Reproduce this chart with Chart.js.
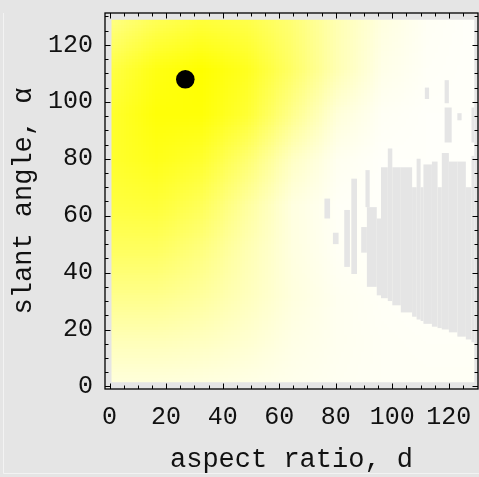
<!DOCTYPE html>
<html lang="en">
<head>
    <meta charset="UTF-8">
    <title>slant angle vs aspect ratio</title>
    <script src="https://cdn.jsdelivr.net/npm/chart.js"></script>
    <style>
        html, body { margin: 0; padding: 0; background-color: #e5e5e5; }
        canvas { display: block; }
    </style>
</head>
<body>

<canvas id="map" width="479" height="477"></canvas>

<script>
    // grid points of the yellow field (data units)
    const fieldX = [0, 16, 32, 48, 64, 80, 96, 112, 128];
    const fieldY = [128, 112, 96, 80, 64, 48, 32, 16, 0];
    // yellow strength at each grid point, rows from top (y=128) to bottom (y=0)
    const strength = [
        [0.50, 0.68, 0.78, 0.72, 0.55, 0.30, 0.12, 0.04, 0.02],
        [0.72, 0.92, 1.00, 0.88, 0.60, 0.30, 0.09, 0.03, 0.02],
        [0.82, 0.97, 0.97, 0.80, 0.45, 0.15, 0.04, 0.02, 0.02],
        [0.82, 0.90, 0.82, 0.56, 0.23, 0.06, 0.02, 0.02, 0.02],
        [0.75, 0.78, 0.65, 0.38, 0.12, 0.03, 0.02, 0.02, 0.02],
        [0.62, 0.62, 0.50, 0.30, 0.12, 0.04, 0.02, 0.02, 0.02],
        [0.45, 0.45, 0.38, 0.26, 0.13, 0.06, 0.03, 0.02, 0.02],
        [0.27, 0.27, 0.24, 0.18, 0.10, 0.06, 0.04, 0.03, 0.03],
        [0.12, 0.12, 0.11, 0.09, 0.07, 0.05, 0.04, 0.04, 0.04]
    ];
    // extent of the filled cells
    const fieldMin = [0.7, 1.5];
    const fieldMax = [129, 128.8];

    // cells with no value: [x0, x1, y0, y1]
    const gaps = [
        [76, 78, 59, 66], [79, 81, 50, 54], [83, 85, 42, 62], [85.5, 87.5, 39.5, 73],
        [89, 91, 47, 56], [90.5, 92, 63, 76], [91, 94.5, 35, 63], [94.5, 96, 32, 59],
        [96, 98.4, 31, 77], [98.4, 100, 30, 83.6], [100, 103, 28.5, 77], [103, 107, 26, 77],
        [107, 108.6, 24.5, 70], [108.6, 110, 23.5, 80], [110, 111, 23, 70], [111, 114, 22, 78],
        [114, 116, 21, 79], [116, 117.5, 20.5, 70], [117.5, 120, 20, 82], [120, 123, 19, 79],
        [123, 126, 17.5, 79], [126, 128, 16.5, 70], [128, 130, 15.5, 81],
        [111.5, 113, 101, 105], [118.5, 120, 99.5, 107.6], [118.5, 121, 85.7, 98],
        [123, 124.5, 93.5, 96], [128, 129.5, 85.7, 98]
    ];

    // optimum marker
    const dotX = [26.8];
    const dotY = [107.9];

    const xTicks = [0, 20, 40, 60, 80, 100, 120];
    const yTicks = [0, 20, 40, 60, 80, 100, 120];
    const minorStep = 5;

    const bgColor = '#e5e5e5';
    const tickFont = { family: 'Liberation Mono', size: 25 };
    const titleFont = { family: 'Liberation Mono', size: 27 };

    function noPadding(s) {
        s.paddingTop = 0;
        s.paddingBottom = 0;
        s.paddingLeft = 0;
        s.paddingRight = 0;
    }

    const fieldPlugin = {
        id: 'field',
        beforeDatasetsDraw(chart) {
            const { ctx, scales: { x, y } } = chart;

            // small image, one pixel per grid point, stretched by the canvas
            const img = document.createElement('canvas');
            img.width = fieldX.length;
            img.height = fieldY.length;
            const ictx = img.getContext('2d');
            const data = ictx.createImageData(img.width, img.height);
            strength.forEach((row, j) => {
                row.forEach((t, i) => {
                    const k = (j * img.width + i) * 4;
                    data.data[k] = 255;
                    data.data[k + 1] = 255;
                    data.data[k + 2] = Math.round(255 * (1 - t));
                    data.data[k + 3] = 255;
                });
            });
            ictx.putImageData(data, 0, 0);

            const half = (fieldX[1] - fieldX[0]) / 2;
            const left = x.getPixelForValue(fieldX[0] - half);
            const right = x.getPixelForValue(fieldX[fieldX.length - 1] + half);
            const top = y.getPixelForValue(fieldY[0] + half);
            const bottom = y.getPixelForValue(fieldY[fieldY.length - 1] - half);

            const cx0 = x.getPixelForValue(fieldMin[0]);
            const cx1 = x.getPixelForValue(fieldMax[0]);
            const cy0 = y.getPixelForValue(fieldMax[1]);
            const cy1 = y.getPixelForValue(fieldMin[1]);

            ctx.save();
            ctx.beginPath();
            ctx.rect(cx0, cy0, cx1 - cx0, cy1 - cy0);
            ctx.clip();
            ctx.imageSmoothingEnabled = true;
            ctx.drawImage(img, left, top, right - left, bottom - top);

            ctx.fillStyle = bgColor;
            gaps.forEach(g => {
                const gx0 = x.getPixelForValue(g[0]);
                const gx1 = x.getPixelForValue(g[1]);
                const gy0 = y.getPixelForValue(g[3]);
                const gy1 = y.getPixelForValue(g[2]);
                ctx.fillRect(gx0, gy0, gx1 - gx0, gy1 - gy0);
            });
            ctx.restore();
        }
    };

    const framePlugin = {
        id: 'frame',
        beforeDraw(chart) {
            // faint outer border
            const ctx = chart.ctx;
            ctx.save();
            ctx.strokeStyle = '#f3f3f3';
            ctx.lineWidth = 1;
            ctx.beginPath();
            ctx.moveTo(3.5, 13);
            ctx.lineTo(3.5, 473.5);
            ctx.lineTo(479, 473.5);
            ctx.stroke();
            ctx.restore();
        },
        afterDatasetsDraw(chart) {
            const { ctx, chartArea: a, scales: { x, y } } = chart;
            ctx.save();
            ctx.strokeStyle = '#000';
            ctx.lineWidth = 1.3;
            ctx.strokeRect(a.left, a.top, a.right - a.left, a.bottom - a.top);

            ctx.lineWidth = 1;
            ctx.beginPath();
            for (let v = 0; v <= 130; v += minorStep) {
                const len = v % 20 === 0 ? 5.5 : 3.5;
                const px = Math.round(x.getPixelForValue(v)) + 0.5;
                if (px > a.left + 1 && px < a.right - 1) {
                    ctx.moveTo(px, a.bottom); ctx.lineTo(px, a.bottom - len);
                    ctx.moveTo(px, a.top); ctx.lineTo(px, a.top + len);
                }
                const py = Math.round(y.getPixelForValue(v)) + 0.5;
                if (py > a.top + 1 && py < a.bottom - 1) {
                    ctx.moveTo(a.left, py); ctx.lineTo(a.left + len, py);
                    ctx.moveTo(a.right, py); ctx.lineTo(a.right - len, py);
                }
            }
            ctx.stroke();
            ctx.restore();
        }
    };

    new Chart(document.getElementById('map'), {
        type: 'scatter',
        data: {
            datasets: [{
                data: dotX.map((v, i) => ({ x: v, y: dotY[i] })),
                pointRadius: 9.3,
                pointBackgroundColor: '#000',
                pointBorderWidth: 0
            }]
        },
        options: {
            responsive: false,
            animation: false,
            layout: { autoPadding: false, padding: { top: 13, right: 1, left: 0, bottom: 0 } },
            plugins: {
                legend: { display: false },
                tooltip: { enabled: false }
            },
            scales: {
                x: {
                    type: 'linear',
                    min: -1.6,
                    max: 130.3,
                    afterBuildTicks: s => { s.ticks = xTicks.map(v => ({ value: v })); },
                    afterFit: s => { s.height = 88; noPadding(s); },
                    grid: { display: false, drawTicks: false },
                    border: { display: false },
                    ticks: { font: tickFont, color: '#111', padding: 13, maxRotation: 0 },
                    title: {
                        display: true,
                        text: 'aspect ratio, d',
                        font: titleFont,
                        color: '#111',
                        padding: { top: 0, bottom: 1 }
                    }
                },
                y: {
                    type: 'linear',
                    min: -0.9,
                    max: 131.2,
                    afterBuildTicks: s => { s.ticks = yTicks.map(v => ({ value: v })); },
                    afterFit: s => { s.width = 105; noPadding(s); },
                    grid: { display: false, drawTicks: false },
                    border: { display: false },
                    ticks: { font: tickFont, color: '#111', padding: 12 },
                    title: {
                        display: true,
                        text: 'slant angle, α',
                        font: titleFont,
                        color: '#111',
                        padding: { top: 8, bottom: 0 }
                    }
                }
            }
        },
        plugins: [fieldPlugin, framePlugin]
    });
</script>

</body>
</html>
